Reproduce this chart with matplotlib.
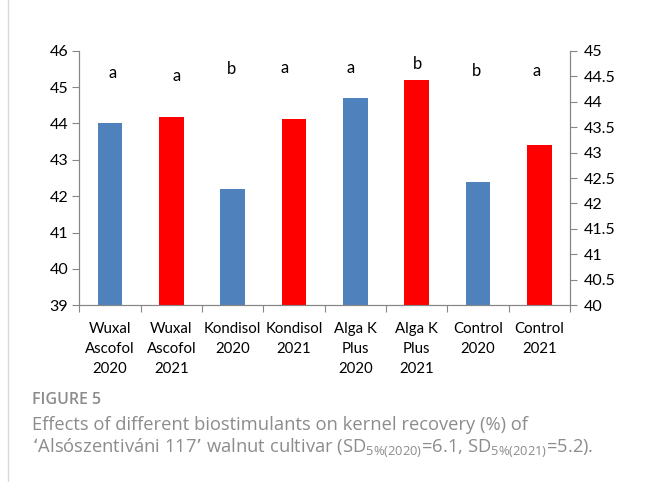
import matplotlib
matplotlib.use('Agg')
import matplotlib.pyplot as plt
import numpy as np

# Data
categories = ['Wuxal\nAscofol\n2020', 'Wuxal\nAscofol\n2021', 'Kondisol\n2020', 'Kondisol\n2021',
              'Alga K\nPlus\n2020', 'Alga K\nPlus\n2021', 'Control\n2020', 'Control\n2021']
values_2020 = [44.0, 42.2, 44.7, 42.4]        # left axis (blue)
values_2021 = [43.7, 43.65, 44.42, 43.14]     # right axis (red)
letters = ['a', 'a', 'b', 'a', 'a', 'b', 'b', 'a']
letter_y = [45.38, 45.31, 45.50, 45.53, 45.53, 45.64, 45.45, 45.45]
letter_dx = [0.05, 0.08, -0.02, -0.15, -0.07, 0.02, -0.03, -0.05]

blue = '#4f81bd'
red = '#ff0000'
axis_gray = '#868686'

plt.rcParams['font.family'] = ['Lato', 'DejaVu Sans']

fig = plt.figure(figsize=(6.46, 4.82), dpi=100)
ax = fig.add_axes([0.1228, 0.3666, 0.7596, 0.5282])
ax2 = ax.twinx()

x = np.arange(len(categories))
bw = 0.4
ax.bar(x[0::2], np.array(values_2020) - 39, bottom=39, width=bw, color=blue, zorder=2)
ax2.bar(x[1::2], np.array(values_2021) - 40, bottom=40, width=bw, color=red, zorder=2)

ax.set_xlim(-0.5, len(categories) - 0.5)
ax.set_ylim(39, 46)
ax2.set_ylim(40, 45)
ax.set_yticks(range(39, 47))
ax2.set_yticks(np.arange(40, 45.01, 0.5))
ax2.set_yticklabels(['40', '40.5', '41', '41.5', '42', '42.5', '43', '43.5', '44', '44.5', '45'])

ax.set_xticks(np.arange(-0.5, len(categories), 1.0))
ax.set_xticklabels([])
ax.set_xticks(x, minor=True)
ax.set_xticklabels(categories, minor=True, fontsize=10.8, linespacing=1.55)
ax.tick_params(axis='x', which='minor', length=0, pad=12)
ax.tick_params(axis='x', which='major', length=5, color=axis_gray)

for a in (ax, ax2):
    a.spines['top'].set_visible(False)
    for s in ('left', 'right', 'bottom'):
        a.spines[s].set_color(axis_gray)
ax.tick_params(axis='y', length=5, color=axis_gray, labelsize=11.5, pad=3)
ax2.tick_params(axis='y', length=5, color=axis_gray, labelsize=11.5, pad=5)

for i, (t, yy, dx) in enumerate(zip(letters, letter_y, letter_dx)):
    ax.text(i + dx, yy, t, ha='center', va='center', fontsize=12)

# page border line on the left
fig.add_artist(plt.Line2D([8 / 646, 8 / 646], [0, 1], transform=fig.transFigure,
                          color='#d9d9d9', linewidth=1))

cap_gray = '#8c8c8c'
fig.text(32 / 646, 1 - 400 / 482, 'FIGURE 5', fontsize=11.5, color=cap_gray,
         family=['Open Sans', 'DejaVu Sans'], va='center', fontweight='semibold')
fig.text(32 / 646, 1 - 425 / 482,
         'Effects of different biostimulants on kernel recovery (%) of',
         fontsize=13.2, color=cap_gray, family=['Open Sans', 'DejaVu Sans'], va='center')
fig.text(32 / 646, 1 - 448 / 482,
         '\u2018Als\u00f3szentiv\u00e1ni 117\u2019 walnut cultivar (SD$\\mathregular{_{5\\%(2020)}}$=6.1, '
         'SD$\\mathregular{_{5\\%(2021)}}$=5.2).',
         fontsize=13.2, color=cap_gray, family=['Open Sans', 'DejaVu Sans'], va='center')

fig.savefig('out.png', dpi=100)
